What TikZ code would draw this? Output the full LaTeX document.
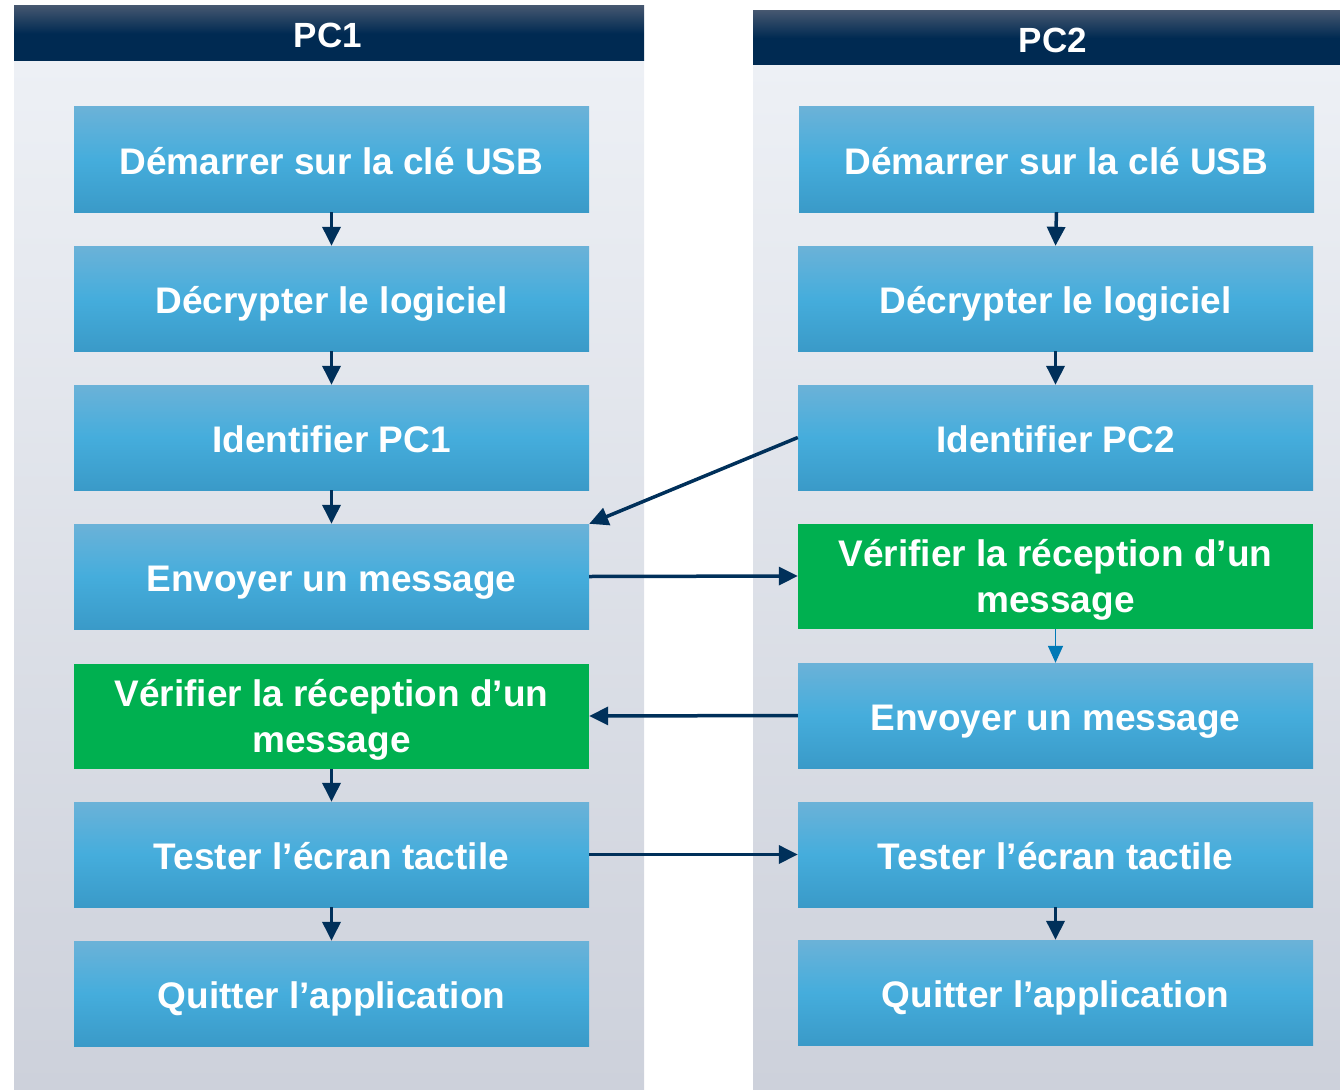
\documentclass[tikz,border=0pt]{standalone}
\usepackage{fontspec}
\setmainfont{Liberation Sans}
\usetikzlibrary{arrows.meta}
\definecolor{navy}{HTML}{00305A}
\definecolor{hdrTop}{HTML}{44566F}
\definecolor{hdrBot}{HTML}{002A52}
\definecolor{panelTop}{HTML}{EDF0F5}
\definecolor{panelBot}{HTML}{CDD1DB}
\definecolor{boxTop}{HTML}{6BB2D8}
\definecolor{boxMid}{HTML}{45ADDC}
\definecolor{boxBot}{HTML}{3A9AC8}
\definecolor{grn}{HTML}{00B050}
\definecolor{thinblue}{HTML}{0079B6}
\tikzset{
  flowbox/.style={minimum width=515pt, minimum height=105pt, inner sep=0pt,
    align=center, text=white, font=\fontsize{37}{46}\selectfont\bfseries,
    text height=33pt, text depth=3pt,
    top color=boxTop, bottom color=boxBot, middle color=boxMid},
  greenbox/.style={minimum width=515pt, minimum height=105pt, inner sep=0pt,
    align=center, text=white, font=\fontsize{37}{46}\selectfont\bfseries,
    text height=76pt, text depth=3pt,
    fill=grn},
  hdrtext/.style={text=white, font=\fontsize{35}{40}\selectfont\bfseries, inner sep=0pt},
  navarr/.style={draw=navy, line width=3.5pt, -{Triangle[length=19pt,width=18pt]}},
  thinarr/.style={draw=thinblue, line width=1.5pt, -{Triangle[length=17pt,width=15pt]}}
}
\begin{document}
\begin{tikzpicture}[x=1pt,y=-1pt]
\useasboundingbox (0,0) rectangle (1340,1089);
% panels
\shade[top color=panelTop, bottom color=panelBot] (14,61) rectangle (644,1089);
\shade[top color=panelTop, bottom color=panelBot] (753,65) rectangle (1340,1089);
% headers
\shade[top color=hdrTop, bottom color=hdrBot, middle color=hdrBot] (14,6) rectangle (644,61);
\shade[top color=hdrTop, bottom color=hdrBot, middle color=hdrBot] (753,11) rectangle (1340,65);
\node[hdrtext] (h1) at (328,35) {PC1};
\node[hdrtext] (h2) at (1053,40) {PC2};
% left column
\node[flowbox] (l1) at (331.5,159.5) {Démarrer sur la clé USB};
\node[flowbox] (l2) at (331.5,298.5) {Décrypter le logiciel};
\node[flowbox] (l3) at (331.5,437.5) {Identifier PC1};
\node[flowbox] (l4) at (331.5,576.5) {Envoyer un message};
\node[greenbox] (l5) at (331.5,716) {Vérifier la réception d’un\\message};
\node[flowbox] (l6) at (331.5,854.5) {Tester l’écran tactile};
\node[flowbox] (l7) at (331.5,993.5) {Quitter l’application};
% right column
\node[flowbox] (r1) at (1056.5,159.5) {Démarrer sur la clé USB};
\node[flowbox] (r2) at (1055.5,298.5) {Décrypter le logiciel};
\node[flowbox] (r3) at (1055.5,437.5) {Identifier PC2};
\node[greenbox] (r4) at (1055.5,576) {Vérifier la réception d’un\\message};
\node[flowbox] (r5) at (1055.5,715.5) {Envoyer un message};
\node[flowbox] (r6) at (1055.5,854.5) {Tester l’écran tactile};
\node[flowbox] (r7) at (1055.5,992.5) {Quitter l’application};
% vertical arrows
\draw[navarr] (l1) -- (l2);
\draw[navarr] (l2) -- (l3);
\draw[navarr] (l3) -- (l4);
\draw[navarr] (l5) -- (l6);
\draw[navarr] (l6) -- (l7);
\draw[navarr] (r1.south) -- (r2.north);
\draw[navarr] (r2) -- (r3);
\draw[thinarr] (r4) -- (r5);
\draw[navarr] (r6) -- (r7);
% cross arrows
\draw[navarr] (r3.west) -- (l4.north east);
\draw[navarr] (l4.east) -- (r4.west);
\draw[navarr] (r5.west) -- (l5.east);
\draw[navarr] (l6.east) -- (r6.west);
\end{tikzpicture}
\end{document}
